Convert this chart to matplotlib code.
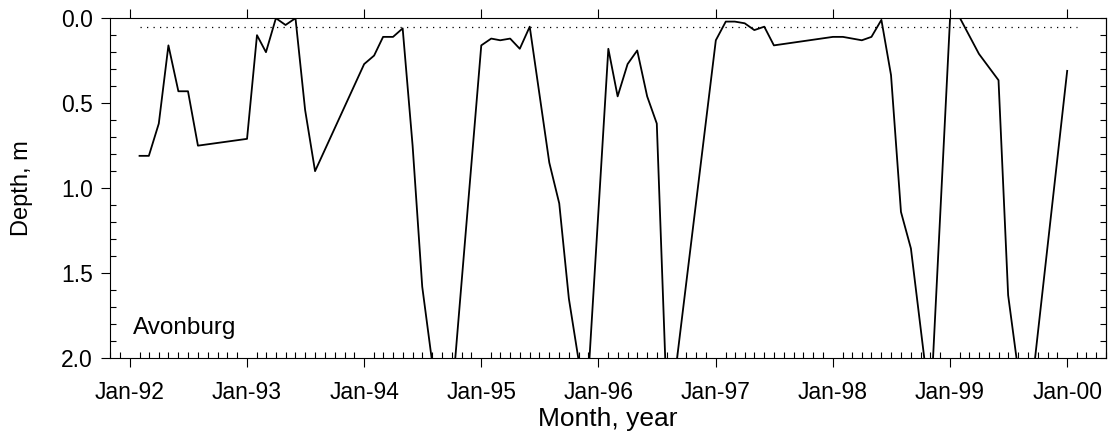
import numpy as np
import pandas as pd
import matplotlib
matplotlib.use("Agg")
from matplotlib import pyplot as plt
import matplotlib.dates as mdates
from matplotlib.ticker import MultipleLocator

plt.rcParams['font.family'] = ['Liberation Sans', 'DejaVu Sans']

# monthly water-table depth at Avonburg (m below surface), months with no reading left out
months = ['1992-02', '1992-03', '1992-04', '1992-05', '1992-06', '1992-07', '1992-08',
          '1993-01', '1993-02', '1993-03', '1993-04', '1993-05', '1993-06', '1993-07', '1993-08',
          '1994-01', '1994-02', '1994-03', '1994-04', '1994-05', '1994-06', '1994-07', '1994-09', '1994-10',
          '1995-01', '1995-02', '1995-03', '1995-04', '1995-05', '1995-06', '1995-08', '1995-09',
          '1995-10', '1995-11', '1995-12',
          '1996-02', '1996-03', '1996-04', '1996-05', '1996-06', '1996-07', '1996-08', '1996-09',
          '1997-01', '1997-02', '1997-03', '1997-04', '1997-05', '1997-06', '1997-07',
          '1998-01', '1998-02', '1998-04', '1998-05', '1998-06', '1998-07', '1998-08', '1998-09', '1998-11',
          '1999-01', '1999-02', '1999-04', '1999-06', '1999-07', '1999-08', '1999-09',
          '2000-01']
depth = [0.81, 0.81, 0.62, 0.16, 0.43, 0.43, 0.75,
         0.71, 0.10, 0.20, 0.00, 0.04, 0.00, 0.54, 0.90,
         0.27, 0.22, 0.11, 0.11, 0.06, 0.75, 1.58, 2.47, 2.25,
         0.16, 0.12, 0.13, 0.12, 0.18, 0.05, 0.85, 1.09,
         1.65, 2.02, 2.10,
         0.18, 0.46, 0.27, 0.19, 0.46, 0.62, 2.25, 2.02,
         0.13, 0.02, 0.02, 0.03, 0.07, 0.05, 0.16,
         0.11, 0.11, 0.13, 0.11, 0.01, 0.335, 1.14, 1.355, 2.30,
         0.00, 0.00, 0.21, 0.365, 1.63, 2.07, 2.37,
         0.31]

ref_depth = 0.05
ref_span = ['1992-02', '2000-02']
site = 'Avonburg'

dates = pd.to_datetime(months)

fig = plt.figure(figsize=(11.08, 4.33), dpi=100)
ax = fig.add_axes([0.0993, 0.173, 0.8989, 0.785])

ax.plot(dates, depth, color='black', lw=1.3)
ax.plot(pd.to_datetime(ref_span), [ref_depth, ref_depth], color='black', lw=0.9,
        ls=(0, (1, 4.2)))

ax.set_xlim(pd.Timestamp('1991-11-01'), pd.Timestamp('2000-05-01'))
ax.set_ylim(2.0, 0.0)

ax.xaxis.set_major_locator(mdates.YearLocator())
ax.xaxis.set_major_formatter(mdates.DateFormatter('%b-%y'))
ax.xaxis.set_minor_locator(mdates.MonthLocator())
ax.yaxis.set_major_locator(MultipleLocator(0.5))
ax.yaxis.set_minor_locator(MultipleLocator(0.1))
ax.yaxis.set_major_formatter(matplotlib.ticker.FormatStrFormatter('%.1f'))

ax.tick_params(axis='x', which='major', direction='out', length=6.5, width=0.8,
               top=True, bottom=True, labelsize=16.5, pad=10)
ax.tick_params(axis='x', which='minor', direction='in', length=4.3, width=0.8,
               top=False, bottom=True)
ax.tick_params(axis='y', which='major', direction='out', length=6.5, width=0.8,
               right=False, labelsize=16.5, pad=6)
ax.tick_params(axis='y', which='minor', direction='in', length=4.0, width=0.8, right=False)

sec = ax.secondary_yaxis('right')
sec.yaxis.set_major_locator(MultipleLocator(0.1))
sec.tick_params(direction='in', length=4.0, width=0.8, labelright=False)

for s in ax.spines.values():
    s.set_linewidth(0.8)
sec.spines['right'].set_linewidth(0.8)

ax.set_xlabel('Month, year', fontsize=19, labelpad=2)
ax.set_ylabel('Depth, m', fontsize=17, labelpad=20)

ax.text(0.023, 0.07, site, transform=ax.transAxes, fontsize=17.5, ha='left', va='baseline')

fig.savefig('out.png', dpi=100)
